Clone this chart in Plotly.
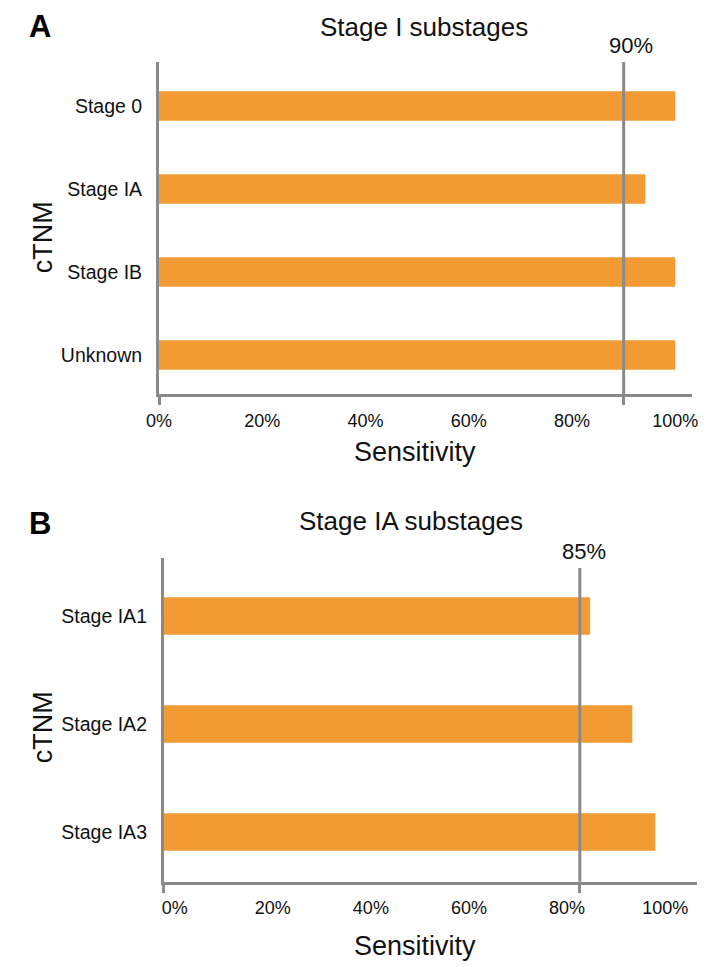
import plotly.graph_objects as go

# ---------------- data ----------------
stages_a = ["Stage 0", "Stage IA", "Stage IB", "Unknown"]
sens_a = [100.0, 94.2, 100.0, 100.0]
threshold_a = 90.0
threshold_a_label = "90%"

stages_b = ["Stage IA1", "Stage IA2", "Stage IA3"]
sens_b = [84.7, 93.3, 98.0]
threshold_b = 82.6
threshold_b_label = "85%"

tick_vals = [0, 20, 40, 60, 80, 100]
tick_text = ["0%", "20%", "40%", "60%", "80%", "100%"]

title_a = "Stage I substages"
title_b = "Stage IA substages"
x_title = "Sensitivity"
y_title = "cTNM"

# ---------------- style ----------------
W, H = 716, 967
ORANGE = "#F29A33"
GREY = "#8A8A8A"
FONT = "Liberation Sans, Arial, Helvetica, sans-serif"

xa_range = [0, 103.2]
xb_range = [-2.2, 106.5]
xb_base = xb_range[0]


def px(x):
    return x / W


def py(y):
    return 1 - y / H


fig = go.Figure()

fig.add_trace(go.Bar(
    y=stages_a, x=sens_a, orientation="h",
    marker=dict(color=ORANGE, line=dict(width=0)),
    width=0.355, xaxis="x", yaxis="y", hoverinfo="x+y",
))
fig.add_trace(go.Bar(
    y=stages_b, x=[v - xb_base for v in sens_b], base=xb_base, orientation="h",
    marker=dict(color=ORANGE, line=dict(width=0)),
    width=0.347, xaxis="x2", yaxis="y2",
))

common_x = dict(
    showline=True, linecolor=GREY, linewidth=3, showgrid=False, zeroline=False,
    tickmode="array", tickvals=tick_vals, ticktext=tick_text, ticks="",
    tickfont=dict(family=FONT, size=18, color="#111"), ticklabelstandoff=8,
    fixedrange=True,
)
common_y = dict(
    showline=True, linecolor=GREY, linewidth=3, showgrid=False, zeroline=False,
    ticks="", tickfont=dict(family=FONT, size=19.5, color="#111"),
    ticklabelstandoff=10, type="category", fixedrange=True,
)

fig.update_layout(
    width=W, height=H,
    margin=dict(l=0, r=0, t=0, b=0),
    paper_bgcolor="white", plot_bgcolor="white",
    showlegend=False,
    font=dict(family=FONT, color="#111"),
    xaxis=dict(common_x, domain=[px(150), px(697.3)], range=xa_range, anchor="y",
               minor=dict(tickmode="array", tickvals=[xa_range[0], threshold_a],
                          ticks="outside", ticklen=8, tickwidth=3, tickcolor=GREY,
                          showgrid=False)),
    yaxis=dict(common_y, domain=[py(394), py(62)], range=[3.47, -0.53], anchor="x"),
    xaxis2=dict(common_x, domain=[px(155), px(702.7)], range=xb_range, anchor="y2",
                minor=dict(tickmode="array", tickvals=[xb_range[0], threshold_b],
                           ticks="outside", ticklen=8, tickwidth=3, tickcolor=GREY,
                           showgrid=False)),
    yaxis2=dict(common_y, domain=[py(881.7), py(557.7)], range=[2.46, -0.54], anchor="x2"),
)

# threshold lines
fig.add_shape(type="line", xref="x", yref="y domain", x0=threshold_a, x1=threshold_a,
              y0=0, y1=1, line=dict(color=GREY, width=3), layer="above")
fig.add_shape(type="line", xref="x2", yref="y2 domain", x0=threshold_b, x1=threshold_b,
              y0=0, y1=(881.7 - 568) / (881.7 - 557.7), line=dict(color=GREY, width=3),
              layer="above")

ann = []
# threshold labels
ann.append(dict(text=threshold_a_label, xref="x", x=threshold_a, xshift=7, yref="paper",
                y=py(46), xanchor="center", yanchor="middle", showarrow=False,
                font=dict(size=22, family=FONT, color="#111")))
ann.append(dict(text=threshold_b_label, xref="x2", x=threshold_b, xshift=4, yref="paper",
                y=py(551), xanchor="center", yanchor="middle", showarrow=False,
                font=dict(size=22, family=FONT, color="#111")))
# panel letters
for letter, yc in (("A", 26), ("B", 523)):
    ann.append(dict(text=f"<b>{letter}</b>", xref="paper", yref="paper", x=px(14), y=py(yc),
                    xanchor="left", yanchor="middle", showarrow=False,
                    font=dict(size=31, family=FONT, color="#000")))
# titles
ann.append(dict(text=title_a, xref="paper", yref="paper", x=px(422), y=py(27),
                xanchor="center", yanchor="middle", showarrow=False,
                font=dict(size=26, family=FONT, color="#111")))
ann.append(dict(text=title_b, xref="paper", yref="paper", x=px(409), y=py(521),
                xanchor="center", yanchor="middle", showarrow=False,
                font=dict(size=26, family=FONT, color="#111")))
# x titles
ann.append(dict(text=x_title, xref="paper", yref="paper", x=px(413), y=py(452),
                xanchor="center", yanchor="middle", showarrow=False,
                font=dict(size=27, family=FONT, color="#111")))
ann.append(dict(text=x_title, xref="paper", yref="paper", x=px(413), y=py(946),
                xanchor="center", yanchor="middle", showarrow=False,
                font=dict(size=27, family=FONT, color="#111")))
# y titles
for yc in (237, 727):
    ann.append(dict(text=y_title, xref="paper", yref="paper", x=px(31), y=py(yc),
                    xanchor="center", yanchor="middle", textangle=-90, showarrow=False,
                    font=dict(size=27, family=FONT, color="#111")))

fig.update_layout(annotations=ann)

fig.write_html(
    "out.html",
    config={"displayModeBar": False},
    post_script="document.body.style.margin='0';document.body.style.overflow='hidden';",
)
